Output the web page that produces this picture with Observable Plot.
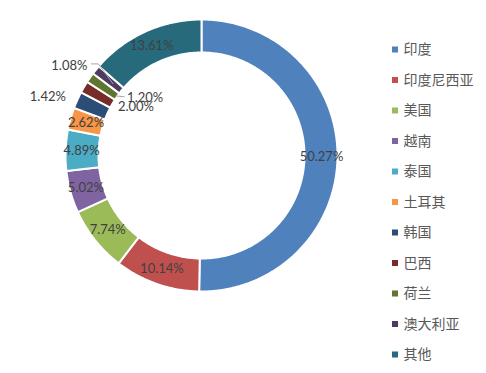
<!DOCTYPE html>
<html>
<head>
<meta charset="utf-8">
<script src="https://cdn.jsdelivr.net/npm/d3@7"></script>
<script src="https://cdn.jsdelivr.net/npm/@observablehq/plot@0.6"></script>
<style>
  html, body { margin: 0; padding: 0; background: #fff; }
  #chart { width: 486px; height: 373px; }
</style>
</head>
<body>
<div id="chart"></div>
<script>
// ---- data ----
const categories = ["印度", "印度尼西亚", "美国", "越南", "泰国", "土耳其", "韩国", "巴西", "荷兰", "澳大利亚", "其他"];
const shares = [50.27, 10.14, 7.74, 5.02, 4.89, 2.62, 2.00, 1.42, 1.20, 1.08, 13.61];
const colors = ["#4F81BD", "#C0504D", "#9BBB59", "#8064A2", "#4BACC6", "#F79646", "#2C4D75", "#772C2A", "#5F7530", "#4D3B62", "#276A7C"];

// ---- layout ----
const W = 486, H = 373;
const cx = 201, cy = 155, rOuter = 136, rInner = 103, rLabel = 120;
const total = d3.sum(shares);
const pt = (a, r) => [cx + r * Math.sin(a), cy - r * Math.cos(a)];

// label placement nudges for small slices (Excel-like best fit)
const nudge = {"韩国": [44, 0], "荷兰": [42, 11], "巴西": [-50, 2], "澳大利亚": [-39, -14]};

let cum = 0;
const slices = categories.map((name, i) => {
  const a0 = cum / total * 2 * Math.PI;
  cum += shares[i];
  const a1 = cum / total * 2 * Math.PI;
  return {name, value: shares[i], a0, a1, mid: (a0 + a1) / 2};
});

const polys = [];
for (const s of slices) {
  const n = Math.max(4, Math.ceil((s.a1 - s.a0) / 0.01));
  for (let k = 0; k <= n; k++) {
    const [x, y] = pt(s.a0 + (s.a1 - s.a0) * k / n, rOuter);
    polys.push({name: s.name, x, y});
  }
  for (let k = n; k >= 0; k--) {
    const [x, y] = pt(s.a0 + (s.a1 - s.a0) * k / n, rInner);
    polys.push({name: s.name, x, y});
  }
}

const labels = slices.map(s => {
  const [x, y] = pt(s.mid, rLabel);
  const [dx, dy] = nudge[s.name] || [0, 0];
  return {name: s.name, text: s.value.toFixed(2) + "%", x: x + dx, y: y + dy};
});

// leader lines
const leaders = [];
{
  const au = slices.find(s => s.name === "澳大利亚");
  const la = labels.find(l => l.name === "澳大利亚");
  const end = pt(au.mid, 114);
  leaders.push({id: 1, x: la.x + 22, y: la.y - 2}, {id: 1, x: la.x + 29, y: la.y - 2}, {id: 1, x: end[0], y: end[1]});
  const nl = slices.find(s => s.name === "荷兰");
  const ll = labels.find(l => l.name === "荷兰");
  const e2 = pt(nl.mid, 104);
  leaders.push({id: 2, x: ll.x - 21, y: ll.y - 1}, {id: 2, x: e2[0], y: e2[1]});
}

const legend = categories.map((name, i) => ({name, y: 49.5 + i * 30.5}));

const font = "Lato, 'Noto Sans', sans-serif";

const chart = Plot.plot({
  width: W, height: H,
  margin: 0,
  axis: null,
  x: {type: "identity", axis: null},
  y: {type: "identity", axis: null},
  color: {domain: categories, range: colors},
  style: {background: "#fff", fontFamily: font},
  marks: [
    Plot.line(polys, {x: "x", y: "y", z: "name", fill: "name", stroke: "white", strokeWidth: 2, curve: "linear-closed"}),
    Plot.line(leaders, {x: "x", y: "y", z: "id", stroke: "#a6a6a6", strokeWidth: 1}),
    Plot.text(labels, {x: "x", y: "y", text: "text", fill: "#404040", fontSize: 13, fontFamily: font}),
    Plot.rect(legend, {x1: () => 392, x2: () => 398, y1: d => d.y - 3, y2: d => d.y + 3, fill: "name"}),
    Plot.text(legend, {x: () => 403, y: "y", text: "name", textAnchor: "start", fill: "#595959", fontSize: 14, fontFamily: "'Noto Sans CJK SC', sans-serif"})
  ]
});
document.getElementById("chart").appendChild(chart);
</script>
</body>
</html>
